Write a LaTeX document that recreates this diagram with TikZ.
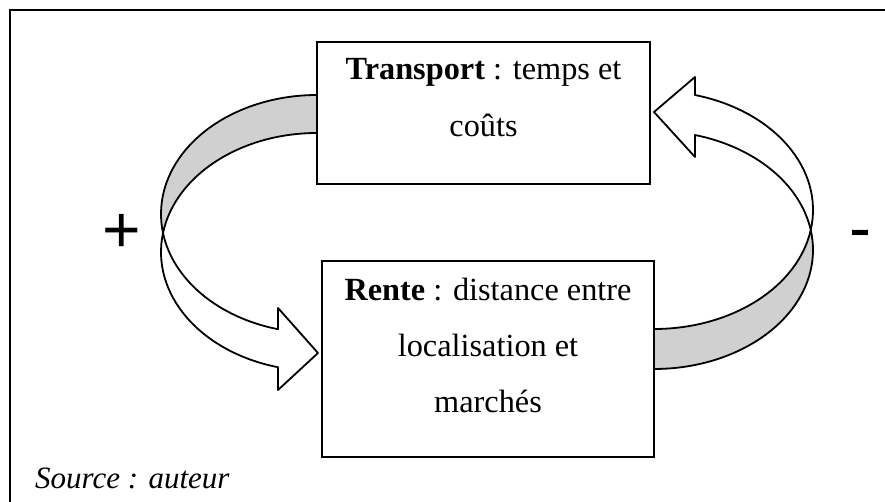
\documentclass[tikz,border=0pt]{standalone}
\usepackage{fontspec}
\setmainfont{Liberation Serif}
\newfontfamily\signfont{Liberation Sans}
\usetikzlibrary{calc}
\definecolor{bandgray}{RGB}{208,208,208}
\begin{document}
\begin{tikzpicture}[x=1pt,y=-1pt,
  box/.style={draw,line width=2pt,fill=white,inner sep=0pt},
  band/.style={draw,line width=1.8pt,line join=round},
  txt/.style={anchor=base,inner sep=0pt,font=\fontsize{32.3}{40}\selectfont},
  sign/.style={inner sep=0pt,font=\signfont\fontsize{66}{70}\selectfont},
  frame/.style={line width=2pt}
]
\useasboundingbox (0,0) rectangle (885,502);
% outer frame (only top and left edges visible)
\coordinate (fA) at (10,503);
\coordinate (fB) at (10,10);
\coordinate (fC) at (886,10);
\draw[frame] (fA) -- (fB) -- (fC);

% boxes
\node[box,minimum width=333pt,minimum height=142pt] (T) at (483.5,113) {};
\node[box,minimum width=332pt,minimum height=196pt] (R) at (488,359) {};

% texts
\node[txt] (t1) at (483.5,80) {\textbf{Transport} : temps et};
\node[txt] (t2) at (483.5,136.5) {coûts};
\node[txt] (r1) at (488,300) {\textbf{Rente} : distance entre};
\node[txt] (r2) at (488,356) {localisation et};
\node[txt] (r3) at (488,412) {marchés};

% left curved arrow (+)
\coordinate (L1) at (317,214);
\coordinate (L2) at (317,252);
\coordinate (Lb1) at (278,390);
\coordinate (Ltip) at (318,353);
\coordinate (Lb2) at (278,308);
\draw[band,fill=bandgray] ($(L1)+(270:156 and 119)$)
  arc[start angle=270,end angle=170.81,x radius=156,y radius=119]
  -- ($(L2)+(189.19:156 and 119)$)
  arc[start angle=189.19,end angle=270,x radius=156,y radius=119] -- cycle;
\draw[band,fill=white] ($(L2)+(189.19:156 and 119)$)
  arc[start angle=189.19,end angle=104.48,x radius=156,y radius=119]
  -- (Lb1) -- (Ltip) -- (Lb2)
  -- ($(L1)+(104.48:156 and 119)$)
  arc[start angle=104.48,end angle=170.81,x radius=156,y radius=119] -- cycle;

% right curved arrow (-)
\coordinate (R1) at (654,250);
\coordinate (R2) at (654,210);
\coordinate (Rb1) at (695,77);
\coordinate (Rtip) at (654,112);
\coordinate (Rb2) at (695,157);
\draw[band,fill=bandgray] ($(R1)+(90:159 and 119)$)
  arc[start angle=90,end angle=-9.68,x radius=159,y radius=119]
  -- ($(R2)+(9.68:159 and 119)$)
  arc[start angle=9.68,end angle=90,x radius=159,y radius=119] -- cycle;
\draw[band,fill=white] ($(R2)+(9.68:159 and 119)$)
  arc[start angle=9.68,end angle=-75.06,x radius=159,y radius=119]
  -- (Rb1) -- (Rtip) -- (Rb2)
  -- ($(R1)+(-75.06:159 and 119)$)
  arc[start angle=-75.06,end angle=-9.68,x radius=159,y radius=119] -- cycle;

% signs
\node[sign] (plus) at (121.5,233.5) {+};
\node[sign,anchor=base] (minus) at (860,251) {-};

% source
\node[anchor=base west,inner sep=0pt,font=\itshape\fontsize{31}{36}\selectfont] (src) at (35,488) {Source : auteur};
\end{tikzpicture}
\end{document}
